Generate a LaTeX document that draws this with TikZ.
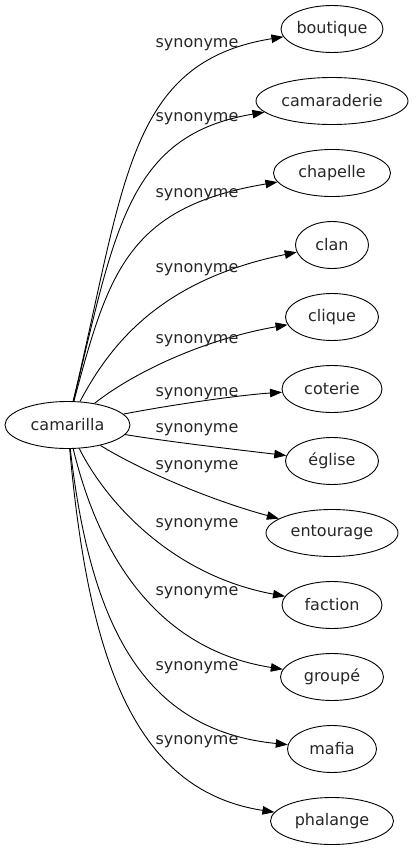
\documentclass[tikz,border=0pt]{standalone}
\usepackage{fontspec}
\setmainfont{DejaVu Sans}
\usetikzlibrary{shapes.geometric,arrows.meta}

\begin{document}
\begin{tikzpicture}[x=1pt,y=-1pt,line width=0.9pt,
  word/.style={ellipse,draw,inner sep=0pt,minimum height=47pt,minimum width=#1,
    text=black!85,font=\fontsize{16}{19}\selectfont},
  rel/.style={text=black!85,font=\fontsize{16}{19}\selectfont},
  syn/.style={-{Triangle[length=12pt,width=8.5pt]}}]
\useasboundingbox (0,0) rectangle (416,851);
\node [word=125pt] (camarilla) at (67.5,425) {camarilla};
\node [word=102pt] (boutique) at (332,29) {boutique};
\node [word=152pt] (camaraderie) at (332,101) {camaraderie};
\node [word=117pt] (chapelle) at (332,173) {chapelle};
\node [word=73pt] (clan) at (332,245) {clan};
\node [word=93pt] (clique) at (332,317) {clique};
\node [word=100pt] (coterie) at (332,389) {coterie};
\node [word=93pt] (eglise) at (332,461) {église};
\node [word=132pt] (entourage) at (332,533) {entourage};
\node [word=100pt] (faction) at (332,605) {faction};
\node [word=103pt] (groupe) at (332,677) {groupé};
\node [word=89pt] (mafia) at (332,749) {mafia};
\node [word=123pt] (phalange) at (332,821) {phalange};
% edges
\draw [syn] (camarilla) .. controls (125,184) and (127,62) .. (boutique);
\draw [syn] (camarilla) .. controls (115,231) and (127,135) .. (camaraderie);
\draw [syn] (camarilla) .. controls (108,274) and (127,207) .. (chapelle);
\draw [syn] (camarilla) .. controls (110,345) and (160,280) .. (clan);
\draw [syn] (camarilla) .. controls (130,375) and (200,340) .. (clique);
\draw [syn] (camarilla) .. controls (170,405) and (240,395) .. (coterie);
\draw [syn] (camarilla) .. controls (170,442) and (240,450) .. (eglise);
\draw [syn] (camarilla) .. controls (140,470) and (210,500) .. (entourage);
\draw [syn] (camarilla) .. controls (105,500) and (170,575) .. (faction);
\draw [syn] (camarilla) .. controls (100,560) and (160,650) .. (groupe);
\draw [syn] (camarilla) .. controls (90,620) and (140,730) .. (mafia);
\draw [syn] (camarilla) .. controls (88,650) and (130,790) .. (phalange);
% labels
\node [rel] (l1) at (197,45) {synonyme};
\node [rel] (l2) at (197,119) {synonyme};
\node [rel] (l3) at (197,195) {synonyme};
\node [rel] (l4) at (197,270) {synonyme};
\node [rel] (l5) at (197,341) {synonyme};
\node [rel] (l6) at (197,394) {synonyme};
\node [rel] (l7) at (197,430) {synonyme};
\node [rel] (l8) at (197,467) {synonyme};
\node [rel] (l9) at (197,525) {synonyme};
\node [rel] (l10) at (197,593) {synonyme};
\node [rel] (l11) at (197,668) {synonyme};
\node [rel] (l12) at (197,742) {synonyme};
\end{tikzpicture}
\end{document}
